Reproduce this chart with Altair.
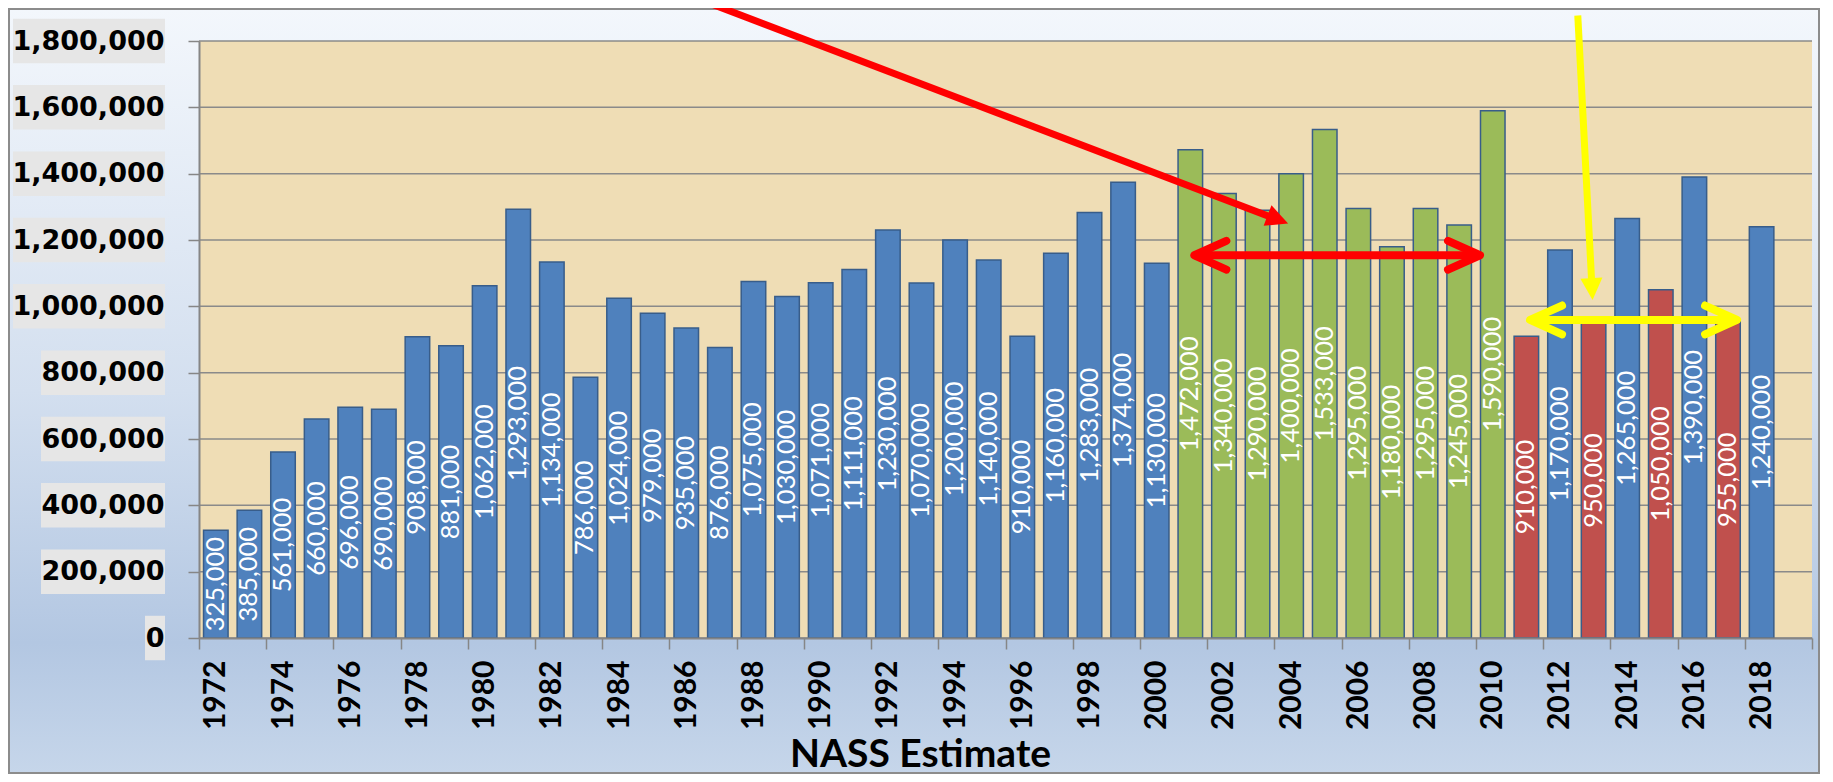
import altair as alt
import pandas as pd

# ---------------- data ----------------
YEARS = list(range(1972, 2019))
VALUES = [325000, 385000, 561000, 660000, 696000, 690000, 908000, 881000,
          1062000, 1293000, 1134000, 786000, 1024000, 979000, 935000, 876000,
          1075000, 1030000, 1071000, 1111000, 1230000, 1070000, 1200000, 1140000,
          910000, 1160000, 1283000, 1374000, 1130000, 1472000, 1340000, 1290000,
          1400000, 1533000, 1295000, 1180000, 1295000, 1245000, 1590000, 910000,
          1170000, 950000, 1265000, 1050000, 1390000, 955000, 1240000]
GREEN_YEARS = list(range(2001, 2011))
RED_YEARS = [2011, 2013, 2015, 2017]
Y_TICKS = [0, 200000, 400000, 600000, 800000, 1000000, 1200000, 1400000, 1600000, 1800000]
X_TITLE = "NASS Estimate"

# annotation arrows (data units)
RED_DIAG_X = [1986.3, 2003.5]
RED_DIAG_Y = [1929000, 1265000]
RED_DIAG_TIP_X = [2003.91]
RED_DIAG_TIP_Y = [1250000]
RED_SPAN_X = [2001.12, 2009.62]
RED_SPAN_Y = [1154000]
YEL_DOWN_X = [2012.53, 2012.95]
YEL_DOWN_Y = [1877000, 1061000]
YEL_DOWN_TIP_X = [2012.97]
YEL_DOWN_TIP_Y = [1019000]
YEL_SPAN_X = [2011.11, 2017.27]
YEL_SPAN_Y = [959000]

# ---------------- layout / style ----------------
W, H = 1613, 597
PAD = {"left": 191, "top": 33, "right": 8, "bottom": 136}
BLUE, GREEN, RED = "#4F81BD", "#9BBB59", "#C0504D"
ARROW_RED, ARROW_YEL = "#FF0000", "#FFFF00"
GRIDC = "#8A8A8A"
HEAD = "M 0 0 L -2 -1 L -2 1 Z"
CHEVRON = "M -2 -0.9 L 0 0 L -2 0.9"

groups = ["green" if y in GREEN_YEARS else ("red" if y in RED_YEARS else "blue") for y in YEARS]
df = pd.DataFrame({"year": YEARS, "value": VALUES, "group": groups})
ydf = pd.DataFrame({"v": Y_TICKS})
X_BOUNDS = [y - 0.5 for y in range(1972, 2021)]

xs = alt.Scale(domain=[1971.5, 2019.5], nice=False, zero=False)
ys = alt.Scale(domain=[0, 1800000], nice=False)
one = alt.Data(values=[{"a": 1}])

bg = alt.Chart(one).mark_rect(
    fill=alt.LinearGradient(
        gradient="linear", x1=0, x2=0, y1=0, y2=1,
        stops=[alt.GradientStop(color="#F3F7FC", offset=0),
               alt.GradientStop(color="#D3DFEF", offset=0.5),
               alt.GradientStop(color="#B3C7E2", offset=0.83),
               alt.GradientStop(color="#C6D6EA", offset=1)]),
    stroke="#8C8C8C", strokeWidth=2,
).encode(x=alt.value(-190), x2=alt.value(W + 7), y=alt.value(-32), y2=alt.value(H + 135))

plot_bg = alt.Chart(one).mark_rect(fill="#EFDDB5").encode(
    x=alt.value(0), x2=alt.value(W), y=alt.value(0), y2=alt.value(H))


def label_boxes(test, left):
    return alt.Chart(ydf).transform_filter(test).transform_calculate(
        lo="datum.v - 67000", hi="datum.v + 67000"
    ).mark_rect(fill="#E6E6E6", clip=False).encode(
        y=alt.Y("lo:Q", scale=ys), y2="hi:Q",
        x=alt.value(left), x2=alt.value(-34))


boxes9 = label_boxes("datum.v >= 1000000", -186)
boxes7 = label_boxes("datum.v > 0 && datum.v < 1000000", -158)
boxes1 = label_boxes("datum.v == 0", -54)

grid = alt.Chart(ydf).mark_rule(color=GRIDC, strokeWidth=1.5).encode(
    y=alt.Y("v:Q", scale=ys))

x_axis = alt.Axis(
    values=X_BOUNDS, title=X_TITLE,
    labelExpr="((datum.value + 0.5) % 2 == 0 && datum.value < 2019) ? toString(datum.value + 0.5) : ''",
    labelAngle=270, labelAlign="right", labelBaseline="middle", labelOffset=16.8,
    labelPadding=11, labelFont="Lato", labelFontSize=30, labelFontWeight="bold",
    labelColor="black", labelOverlap=False, labelFlush=False, labelBound=False,
    tickSize=11, tickColor="#868686", tickWidth=1.5, domainColor="#868686", domainWidth=2,
    grid=False, titleFont="Lato", titleFontSize=39, titleFontWeight="bold", titleColor="black",
    titleX=721, titleY=128, titleAlign="center", titleBaseline="alphabetic", zindex=1)

y_axis = alt.Axis(
    values=Y_TICKS, format=",d", title="", labelFont="DejaVu Sans", labelFontSize=27,
    labelFontWeight="bold", labelColor="black", labelPadding=24, labelAlign="right",
    labelBaseline="middle", labelFlush=False, labelOverlap=False,
    tickSize=11, tickColor="#868686", tickWidth=1.5, domainColor="#868686", domainWidth=2,
    grid=False, zindex=1)

bars = alt.Chart(df).transform_calculate(
    x0="datum.year - 0.365", x1="datum.year + 0.365", zero="0"
).mark_rect(stroke="#385D8A", strokeWidth=1.5).encode(
    x=alt.X("x0:Q", scale=xs, axis=x_axis), x2="x1:Q",
    y=alt.Y("value:Q", scale=ys, axis=y_axis), y2="zero:Q",
    color=alt.Color("group:N", scale=alt.Scale(domain=["blue", "green", "red"],
                                               range=[BLUE, GREEN, RED]), legend=None))

labels = alt.Chart(df).transform_calculate(mid="datum.value / 2").mark_text(
    angle=270, align="center", baseline="middle", color="white", font="Lato", fontSize=25.5
).encode(x=alt.X("year:Q", scale=xs), y=alt.Y("mid:Q", scale=ys),
         text=alt.Text("value:Q", format=",d"))


def shaft(xv, yv, color, width):
    return alt.Chart(pd.DataFrame({"x": xv, "y": yv})).mark_line(
        color=color, strokeWidth=width, clip=False).encode(
        x=alt.X("x:Q", scale=xs), y=alt.Y("y:Q", scale=ys))


def head(xv, yv, color, angle):
    return alt.Chart(pd.DataFrame({"x": xv, "y": yv})).mark_point(
        shape=HEAD, filled=True, size=484, angle=angle, color=color, opacity=1, clip=False
    ).encode(x=alt.X("x:Q", scale=xs), y=alt.Y("y:Q", scale=ys))


def span(xv, yv, color, width):
    d = pd.DataFrame({"x0": [xv[0]], "x1": [xv[1]], "y": yv})
    rule = alt.Chart(d).mark_rule(color=color, strokeWidth=width, clip=False).encode(
        x=alt.X("x0:Q", scale=xs), x2="x1:Q", y=alt.Y("y:Q", scale=ys))
    left = alt.Chart(d).mark_point(
        shape=CHEVRON, filled=False, size=1024, angle=180, color=color, opacity=1,
        strokeWidth=width, strokeCap="round", strokeJoin="round", clip=False
    ).encode(x=alt.X("x0:Q", scale=xs), y=alt.Y("y:Q", scale=ys))
    right = alt.Chart(d).mark_point(
        shape=CHEVRON, filled=False, size=1024, angle=0, color=color, opacity=1,
        strokeWidth=width, strokeCap="round", strokeJoin="round", clip=False
    ).encode(x=alt.X("x1:Q", scale=xs), y=alt.Y("y:Q", scale=ys))
    return [rule, left, right]


layers = [bg, plot_bg, boxes9, boxes7, boxes1, grid, bars, labels,
          shaft(RED_DIAG_X, RED_DIAG_Y, ARROW_RED, 7),
          head(RED_DIAG_TIP_X, RED_DIAG_TIP_Y, ARROW_RED, 20.9),
          *span(RED_SPAN_X, RED_SPAN_Y, ARROW_RED, 8),
          shaft(YEL_DOWN_X, YEL_DOWN_Y, ARROW_YEL, 7),
          head(YEL_DOWN_TIP_X, YEL_DOWN_TIP_Y, ARROW_YEL, 87),
          *span(YEL_SPAN_X, YEL_SPAN_Y, ARROW_YEL, 8)]

chart = alt.layer(*layers).properties(
    width=W, height=H, padding=PAD, autosize=alt.AutoSizeParams(type="none")
).configure_view(stroke=None)

chart.save("out.html", embed_options={"renderer": "svg", "actions": False})
